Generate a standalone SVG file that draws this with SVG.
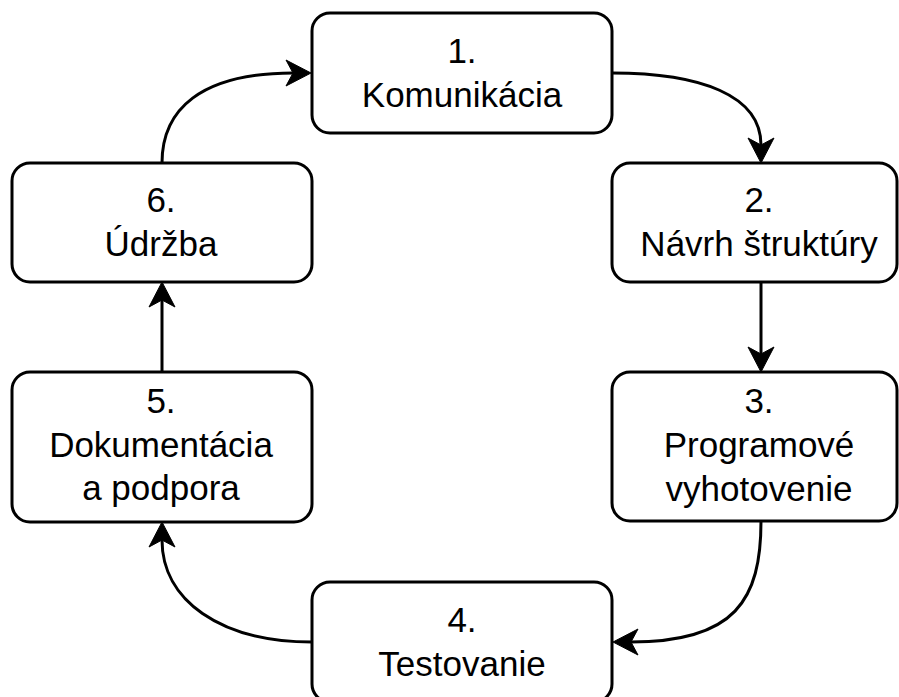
<svg xmlns="http://www.w3.org/2000/svg" width="899" height="697" viewBox="0 0 899 697">
<style>
.box{fill:#fff;stroke:#000;stroke-width:3}
.lbl{font-family:"Liberation Sans",Arial,sans-serif;font-size:35px;fill:#000;text-anchor:middle}
.edge{fill:none;stroke:#000;stroke-width:3}
</style>
<defs>
<marker id="arr" markerUnits="userSpaceOnUse" markerWidth="30" markerHeight="30" refX="7" refY="13" orient="auto" overflow="visible">
<path d="M0,0 L25,13 L0,26 L7,13 Z" fill="#000" stroke="#000" stroke-width="1" stroke-linejoin="miter"/>
</marker>
</defs>
<rect width="899" height="697" fill="#fff"/>
<g id="connectors">
<path class="edge" d="M612,73 C700,73 761,95 761,145" marker-end="url(#arr)"/>
<path class="edge" d="M761,282 L761,354" marker-end="url(#arr)"/>
<path class="edge" d="M761,521 C761,600 735,642 631,642" marker-end="url(#arr)"/>
<path class="edge" d="M312,642 C220,642 162,600 162,540" marker-end="url(#arr)"/>
<path class="edge" d="M162,372 L162,300" marker-end="url(#arr)"/>
<path class="edge" d="M162,163 C162,110 200,73 293,73" marker-end="url(#arr)"/>
</g>
<g id="node1">
<rect class="box" x="312" y="13" width="300" height="120" rx="18"/>
<text class="lbl" x="462" y="63">1.</text>
<text class="lbl" x="462" y="107">Komunikácia</text>
</g>
<g id="node2">
<rect class="box" x="612" y="163" width="285" height="119" rx="18"/>
<text class="lbl" x="759" y="212">2.</text>
<text class="lbl" x="759" y="256">Návrh štruktúry</text>
</g>
<g id="node3">
<rect class="box" x="612" y="372" width="285" height="149" rx="18"/>
<text class="lbl" x="759" y="413">3.</text>
<text class="lbl" x="759" y="457">Programové</text>
<text class="lbl" x="759" y="501">vyhotovenie</text>
</g>
<g id="node4">
<rect class="box" x="312" y="582" width="300" height="120" rx="18"/>
<text class="lbl" x="462" y="632">4.</text>
<text class="lbl" x="462" y="676">Testovanie</text>
</g>
<g id="node5">
<rect class="box" x="12" y="372" width="300" height="150" rx="18"/>
<text class="lbl" x="161" y="413">5.</text>
<text class="lbl" x="161" y="457">Dokumentácia</text>
<text class="lbl" x="161" y="500">a podpora</text>
</g>
<g id="node6">
<rect class="box" x="12" y="163" width="300" height="119" rx="18"/>
<text class="lbl" x="161" y="212">6.</text>
<text class="lbl" x="161" y="256">Údržba</text>
</g>
</svg>
